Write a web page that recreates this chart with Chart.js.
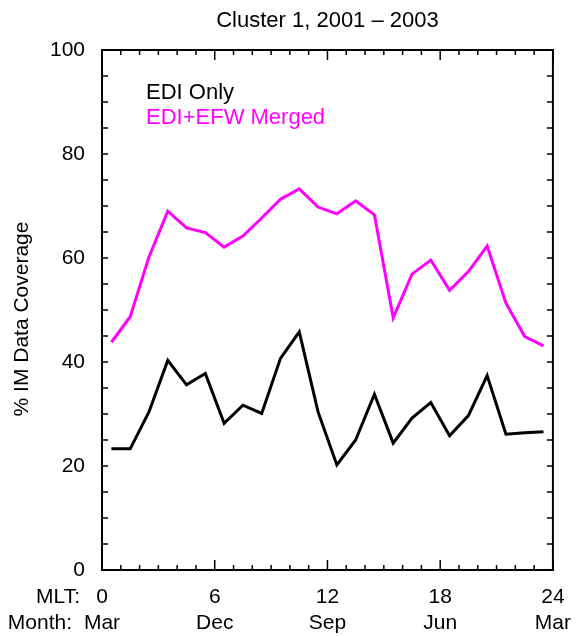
<!DOCTYPE html>
<html>
<head>
<meta charset="utf-8">
<script src="https://cdn.jsdelivr.net/npm/chart.js@4"></script>
<style>
  html, body { margin: 0; padding: 0; background: #fff; }
  #wrap { width: 585px; height: 636px; }
</style>
</head>
<body>
<div id="wrap"><canvas id="myChart" width="585" height="636"></canvas></div>
<script>
// MLT bin centres (hours)
const mlt = [0.5, 1.5, 2.5, 3.5, 4.5, 5.5, 6.5, 7.5, 8.5, 9.5, 10.5, 11.5,
             12.5, 13.5, 14.5, 15.5, 16.5, 17.5, 18.5, 19.5, 20.5, 21.5, 22.5, 23.5];

const ediOnly = [23.3, 23.3, 30.4, 40.3, 35.6, 37.8, 28.2, 31.7, 30.1, 40.7, 45.8, 30.4,
                 20.2, 25.0, 33.8, 24.4, 29.2, 32.2, 25.8, 29.7, 37.4, 26.1, 26.4, 26.6];

const ediEfwMerged = [43.8, 48.7, 60.2, 69.0, 65.8, 64.9, 62.1, 64.2, 67.7, 71.3, 73.3, 69.8,
                      68.5, 71.0, 68.3, 48.5, 56.9, 59.6, 53.8, 57.4, 62.3, 51.3, 44.9, 43.1];

// labelled x ticks: MLT hour -> month
const mltTicks = [0, 6, 12, 18, 24];
const monthTicks = ['Mar', 'Dec', 'Sep', 'Jun', 'Mar'];

const FONT = '"Liberation Sans", Arial, Helvetica, sans-serif';
const yTitle = '% IM Data Coverage';

function toXY(xs, ys) {
    return xs.map((x, i) => ({ x: x, y: ys[i] }));
}

// frame with inward tick marks on all four sides, plus the loose texts
const framePlugin = {
    id: 'frame',
    afterDraw(chart) {
        const ctx = chart.ctx;
        const a = chart.chartArea;
        const xs = chart.scales.x;
        const ys = chart.scales.y;
        ctx.save();
        ctx.strokeStyle = '#000';
        ctx.lineWidth = 2;
        ctx.strokeRect(a.left, a.top, a.right - a.left, a.bottom - a.top);

        ctx.lineWidth = 1.5;
        ctx.beginPath();
        xs.ticks.forEach(t => {
            const px = xs.getPixelForValue(t.value);
            const len = t.value % 6 === 0 ? 10 : 5;
            ctx.moveTo(px, a.bottom);
            ctx.lineTo(px, a.bottom - len);
            ctx.moveTo(px, a.top);
            ctx.lineTo(px, a.top + len);
        });
        ys.ticks.forEach(t => {
            const py = ys.getPixelForValue(t.value);
            ctx.moveTo(a.left, py);
            ctx.lineTo(a.left + 6, py);
            ctx.moveTo(a.right, py);
            ctx.lineTo(a.right - 6, py);
        });
        ctx.stroke();

        // row captions for the x tick labels
        ctx.fillStyle = '#000';
        ctx.font = '21px ' + FONT;
        ctx.textAlign = 'right';
        ctx.textBaseline = 'middle';
        ctx.fillText('MLT:', 80, a.bottom + 27);
        ctx.fillText('Month:', 72, a.bottom + 53);

        // y axis title
        ctx.save();
        ctx.translate(22, (a.top + a.bottom) / 2 + 9);
        ctx.rotate(-Math.PI / 2);
        ctx.textAlign = 'center';
        ctx.fillText(yTitle, 0, 0);
        ctx.restore();

        // legend text in the plot
        ctx.font = '22px ' + FONT;
        ctx.textAlign = 'left';
        ctx.textBaseline = 'alphabetic';
        chart.data.datasets.forEach((ds, i) => {
            ctx.fillStyle = ds.borderColor;
            ctx.fillText(ds.label, a.left + 44, a.top + 49 + i * 25);
        });
        ctx.restore();
    }
};

const config = {
    type: 'line',
    data: {
        datasets: [
            {
                label: 'EDI Only',
                data: toXY(mlt, ediOnly),
                borderColor: '#000000',
                borderWidth: 3,
                pointRadius: 0,
                tension: 0
            },
            {
                label: 'EDI+EFW Merged',
                data: toXY(mlt, ediEfwMerged),
                borderColor: '#ff00ff',
                borderWidth: 3,
                pointRadius: 0,
                tension: 0
            }
        ]
    },
    options: {
        responsive: false,
        animation: false,
        layout: { padding: { left: 0, right: 24, top: 0, bottom: 0 } },
        plugins: {
            legend: { display: false },
            tooltip: { enabled: false },
            title: {
                display: true,
                text: 'Cluster 1, 2001 \u2013 2003',
                fullSize: false,
                color: '#000',
                font: { family: FONT, size: 22, weight: 'normal' },
                padding: { top: 8, bottom: 15.6 }
            }
        },
        scales: {
            x: {
                type: 'linear',
                min: 0,
                max: 24,
                grid: { display: false, drawTicks: false },
                border: { display: false },
                ticks: {
                    stepSize: 1,
                    autoSkip: false,
                    maxRotation: 0,
                    padding: 14,
                    color: '#000',
                    font: { family: FONT, size: 21, lineHeight: 1.24 },
                    callback: function(v) {
                        const k = mltTicks.indexOf(v);
                        return k >= 0 ? [String(v), monthTicks[k]] : '';
                    }
                },
                afterFit: function(s) { s.height = 66; }
            },
            y: {
                min: 0,
                max: 100,
                grid: { display: false, drawTicks: false },
                border: { display: false },
                ticks: {
                    stepSize: 5,
                    autoSkip: false,
                    padding: 17,
                    color: '#000',
                    font: { family: FONT, size: 21 },
                    callback: function(v) { return v % 20 === 0 ? String(v) : ''; }
                },
                afterFit: function(s) { s.width = 102; }
            }
        }
    },
    plugins: [framePlugin]
};

new Chart(document.getElementById('myChart').getContext('2d'), config);
</script>
</body>
</html>
